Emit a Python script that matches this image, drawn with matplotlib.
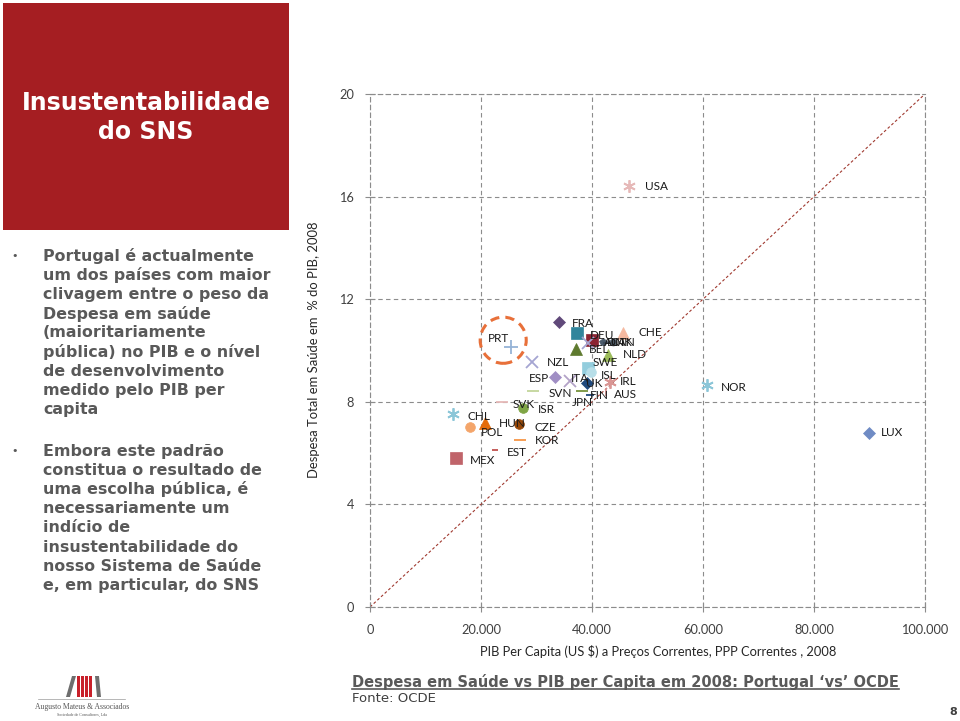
import matplotlib
matplotlib.use("Agg")
import matplotlib.pyplot as plt
from matplotlib.patches import Rectangle, Ellipse, Polygon
from matplotlib.lines import Line2D
from matplotlib.ticker import FuncFormatter

# ----------- dados -----------
countries = ["USA", "NOR", "LUX", "CHE", "FRA", "", "DEU", "", "BEL",
             "AUT", "DNK", "CAN", "NLD", "SWE", "ISL", "UK", "IRL", "ITA",
             "ESP", "NZL", "JPN", "SVN", "FIN", "AUS", "SVK", "ISR", "CHL",
             "POL", "HUN", "CZE", "KOR", "EST", "MEX", "PRT"]
pib_pc = [46700, 60700, 89900, 45600, 34000, 37300, 40000, 39300, 37100,
          42000, 42900, 43800, 42900, 39300, 39900, 39100, 43200, 36000,
          33300, 29200, 38200, 29400, 39600, 42500, 23800, 27600, 15000,
          18000, 20700, 26800, 27000, 22500, 15500, 25400]
despesa = [16.4, 8.65, 6.8, 10.7, 11.1, 10.7, 10.4, 10.3, 10.05,
           10.33, 10.29, 10.33, 9.82, 9.3, 9.15, 8.73, 8.77, 8.8,
           8.97, 9.55, 8.42, 8.42, 8.27, 8.38, 7.99, 7.76, 7.52,
           7.02, 7.17, 7.13, 6.51, 6.12, 5.81, 10.14]

x_ticks = [0, 20000, 40000, 60000, 80000, 100000]
y_ticks = [0, 4, 8, 12, 16, 20]

# estilo de cada marcador (tipo, cor, tamanho)
AST = (6, 2, 0)
styles = [(AST, "#E6B9B8", 9), (AST, "#8CC6D8", 9), ("D", "#6F8BC4", 6),
          ("^", "#F6B9A0", 8), ("D", "#60497A", 6), ("s", "#31859C", 8),
          ("s", "#8B2332", 8), ("x", "#A5A5D2", 8), ("^", "#5E7A2E", 8),
          ("p", "#4A5A6A", 6), ("_", "#3C4A5A", 7), ("o", "#50606E", 5),
          ("^", "#9BBB59", 8), ("s", "#93CDDD", 8), ("o", "#B7DEE8", 7),
          ("D", "#1F497D", 6), (AST, "#D99694", 9), ("x", "#B3A2C7", 8),
          ("D", "#A08EC4", 6), ("x", "#A5A5D2", 9), ("_", "#77933C", 8),
          ("_", "#C3D69B", 8), ("_", "#1F497D", 6), ("|", "#D99694", 6),
          ("_", "#E6B9B8", 8), ("o", "#7FA545", 7), (AST, "#8CC6D8", 9),
          ("o", "#F4A56A", 7), ("^", "#E46C0A", 8), ("o", "#984807", 7),
          ("_", "#F79646", 8), ("_", "#C0504D", 5), ("s", "#C0646A", 8),
          ("+", "#95B3D7", 10)]

# posição do rótulo (pixels em relação ao marcador, alinhamento)
label_off = [(16, 0, "left"), (14, -2, "left"), (12, 0, "left"), (15, 0, "left"),
             (13, -1, "left"), (0, 0, "left"), (-2, 5, "left"), (0, 0, "left"),
             (13, 0, "left"), (1, 0, "left"), (-1, 1, "left"), (-3, 0, "left"),
             (15, 1, "left"), (4, 6, "left"), (9, -3, "left"), (-1, 0, "left"),
             (10, 1, "left"), (1, 3, "left"), (-6, -2, "right"), (15, 0, "left"),
             (-10, -11, "left"), (15, -2, "left"), (0, -1, "left"), (8, -2, "left"),
             (11, -2, "left"), (15, -2, "left"), (14, -2, "left"), (11, -6, "left"),
             (14, 0, "left"), (16, -3, "left"), (15, 0, "left"), (12, -2, "left"),
             (14, -3, "left"), (-23, 8, "left")]

titulo = ["Insustentabilidade", "do SNS"]
bullet1 = ["Portugal é actualmente", "um dos países com maior",
           "clivagem entre o peso da", "Despesa em saúde",
           "(maioritariamente", "pública) no PIB e o nível",
           "de desenvolvimento", "medido pelo PIB per", "capita"]
bullet2 = ["Embora este padrão", "constitua o resultado de",
           "uma escolha pública, é", "necessariamente um", "indício de",
           "insustentabilidade do", "nosso Sistema de Saúde",
           "e, em particular, do SNS"]

W, H = 960, 721
GRAY = "#595959"


def px(x, y):
    return x / W, 1 - y / H


fig = plt.figure(figsize=(9.6, 7.21), dpi=100)
fig.patch.set_facecolor("white")

# ----------- painel vermelho -----------
x0, y0 = px(3, 230)
fig.patches.append(Rectangle((x0, y0), 286 / W, 227 / H, transform=fig.transFigure,
                             facecolor="#A51E22", edgecolor="none"))
for i, ln in enumerate(titulo):
    fig.text(*px(146, 103 + i * 29), ln, color="white", fontsize=17,
             fontweight="bold", ha="center", va="center", family="DejaVu Sans")

# ----------- texto -----------
for bl, y_start in [(bullet1, 256), (bullet2, 451)]:
    fig.text(*px(15, y_start), "•", color=GRAY, fontsize=8, ha="center", va="center")
    for i, ln in enumerate(bl):
        fig.text(*px(43, y_start + i * 19.2), ln, color=GRAY, fontsize=11.4,
                 fontweight="bold", ha="left", va="center", family="DejaVu Sans")

# ----------- gráfico -----------
ax = fig.add_axes([370 / W, 1 - 607 / H, 555 / W, 513 / H])
ax.set_xlim(0, 100000)
ax.set_ylim(0, 20)
ax.set_xticks(x_ticks)
ax.set_yticks(y_ticks)
ax.xaxis.set_major_formatter(FuncFormatter(lambda v, p: f"{int(v):,}".replace(",", ".")))
ax.grid(True, color="#8C8C8C", linestyle=(0, (4, 3)), linewidth=0.8)
for s in ax.spines.values():
    s.set_color("#8C8C8C")
    s.set_linestyle((0, (4, 3)))
    s.set_linewidth(0.8)
ax.tick_params(direction="inout", length=7, width=0.8, color="#8C8C8C",
               labelsize=9.2, labelcolor="#404040")
ax.tick_params(axis="y", pad=8)
ax.tick_params(axis="x", pad=9)
for lbl in ax.get_xticklabels() + ax.get_yticklabels():
    lbl.set_family("Lato")

ax.plot([0, 100000], [0, 20], color="#A0392F", linestyle=(0, (2.5, 2)), linewidth=0.8)

for i, c in enumerate(countries):
    m, col, sz = styles[i]
    lw = 1.3 if m in ("x", "+", "_", "|") or m == AST else 0.5
    ax.plot(pib_pc[i], despesa[i], marker=m, color=col, markersize=sz,
            markeredgewidth=lw, linestyle="none", zorder=3)
    if c:
        dx, dy, ha = label_off[i]
        ax.annotate(c, (pib_pc[i], despesa[i]), xytext=(dx, dy),
                    textcoords="offset pixels", ha=ha, va="center",
                    fontsize=8.5, color="#1A1A1A", family="Lato", zorder=4)

ax.add_patch(Ellipse((24000, 10.4), 8300, 1.8, fill=False, edgecolor="#E8703A",
                     linewidth=2.2, linestyle=(0, (3, 2)), zorder=2))

fig.text(*px(314, 350), "Despesa Total em Saúde em  % do PIB, 2008", rotation=90,
         ha="center", va="center", fontsize=9.4, color="#262626", family="Lato")
fig.text(*px(658, 651), "PIB Per Capita (US $) a Preços Correntes, PPP Correntes , 2008",
         ha="center", va="center", fontsize=9.3, color="#262626", family="Lato")

# ----------- legenda / fonte -----------
cap = fig.text(*px(352, 682), "Despesa em Saúde vs PIB per Capita em 2008: Portugal ‘vs’ OCDE",
               ha="left", va="center", fontsize=10.5, fontweight="bold", color=GRAY,
               family="DejaVu Sans")
fig.text(*px(352, 699), "Fonte: OCDE", ha="left", va="center", fontsize=9.5,
         color="#404040", family="DejaVu Sans")
fig.text(*px(953, 712), "8", ha="center", va="center", fontsize=8,
         fontweight="bold", color="#404040", family="DejaVu Sans")

fig.canvas.draw()
bb = cap.get_window_extent()
uy = bb.y0 + 1
fig.lines.append(Line2D([bb.x0 / W, bb.x1 / W], [uy / H, uy / H], transform=fig.transFigure,
                        color=GRAY, linewidth=1.2))

# ----------- logotipo -----------
logo = [([(66, 697), (70, 697), (76, 676), (72, 676)], "#6E6E6E"),
        ([(95, 676), (99, 676), (101, 697), (97, 697)], "#6E6E6E")]
for pts, col in logo:
    fig.patches.append(Polygon([px(*p) for p in pts], closed=True, transform=fig.transFigure,
                               facecolor=col, edgecolor="none"))
for bx in [77, 81, 85, 89]:
    x0, y0 = px(bx, 697)
    fig.patches.append(Rectangle((x0, y0), 3 / W, 21 / H, transform=fig.transFigure,
                                 facecolor="#C8202A", edgecolor="none"))
fig.lines.append(Line2D([38 / W, 125 / W], [1 - 699 / H] * 2, transform=fig.transFigure,
                        color="#9A9A9A", linewidth=0.5))
fig.text(*px(82, 707), "Augusto Mateus & Associados", ha="center", va="center",
         fontsize=5.5, color="#555555", family="Liberation Serif")
fig.text(*px(82, 715), "Sociedade de Consultores, Lda", ha="center", va="center",
         fontsize=3, color="#555555", family="Liberation Serif")

fig.savefig("out.png", dpi=100, facecolor="white")
